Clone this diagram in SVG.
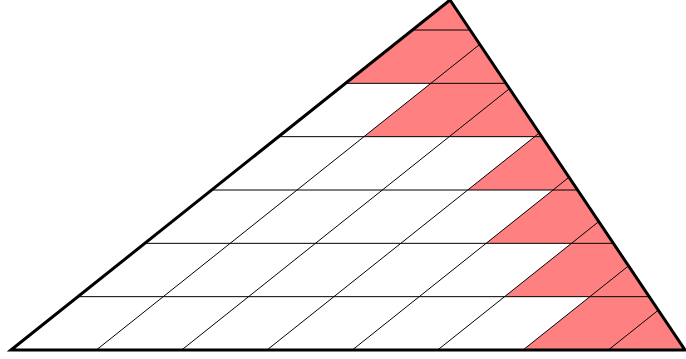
<svg xmlns="http://www.w3.org/2000/svg" width="686" height="359" viewBox="0 0 686 359">
<style>
.fill{fill:#ff8080;stroke:none}
.thin{stroke:#000;stroke-width:1;fill:none}
.outline{stroke:#000;stroke-width:3;fill:none;stroke-linejoin:miter}
</style>
<rect width="686" height="359" fill="#fff"/>
<g id="shading">
<polygon class="fill" points="523,350 685,350 649.2,296.67 589.9,296.67"/>
<polygon class="fill" points="504.6,296.67 649.2,296.67 613.4,243.33 571.5,243.33"/>
<polygon class="fill" points="486.1,243.33 613.4,243.33 577.6,190 553,190"/>
<polygon class="fill" points="467.7,190 577.6,190 541.8,136.67 534.6,136.67"/>
<polygon class="fill" points="363.9,136.67 541.8,136.67 506,83.33 430.8,83.33"/>
<polygon class="fill" points="345.5,83.33 506,83.33 450,0"/>
</g>
<g id="grid" class="thin">
<line x1="77.9" y1="296.67" x2="649.2" y2="296.67"/>
<line x1="144.8" y1="243.33" x2="613.4" y2="243.33"/>
<line x1="211.7" y1="190" x2="577.6" y2="190"/>
<line x1="278.6" y1="136.67" x2="541.8" y2="136.67"/>
<line x1="345.5" y1="83.33" x2="506" y2="83.33"/>
<line x1="412.4" y1="30" x2="470.1" y2="30"/>
<line x1="96.33" y1="350" x2="479.8" y2="44.33"/>
<line x1="181.67" y1="350" x2="509.5" y2="88.64"/>
<line x1="267" y1="350" x2="539.3" y2="132.95"/>
<line x1="352.33" y1="350" x2="569" y2="177.26"/>
<line x1="437.67" y1="350" x2="598.8" y2="221.57"/>
<line x1="523" y1="350" x2="628.5" y2="265.88"/>
<line x1="608.33" y1="350" x2="658.3" y2="310.19"/>
</g>
<g id="triangle">
<polygon class="outline" points="11,350 450,0 685,350"/>
</g>
</svg>
